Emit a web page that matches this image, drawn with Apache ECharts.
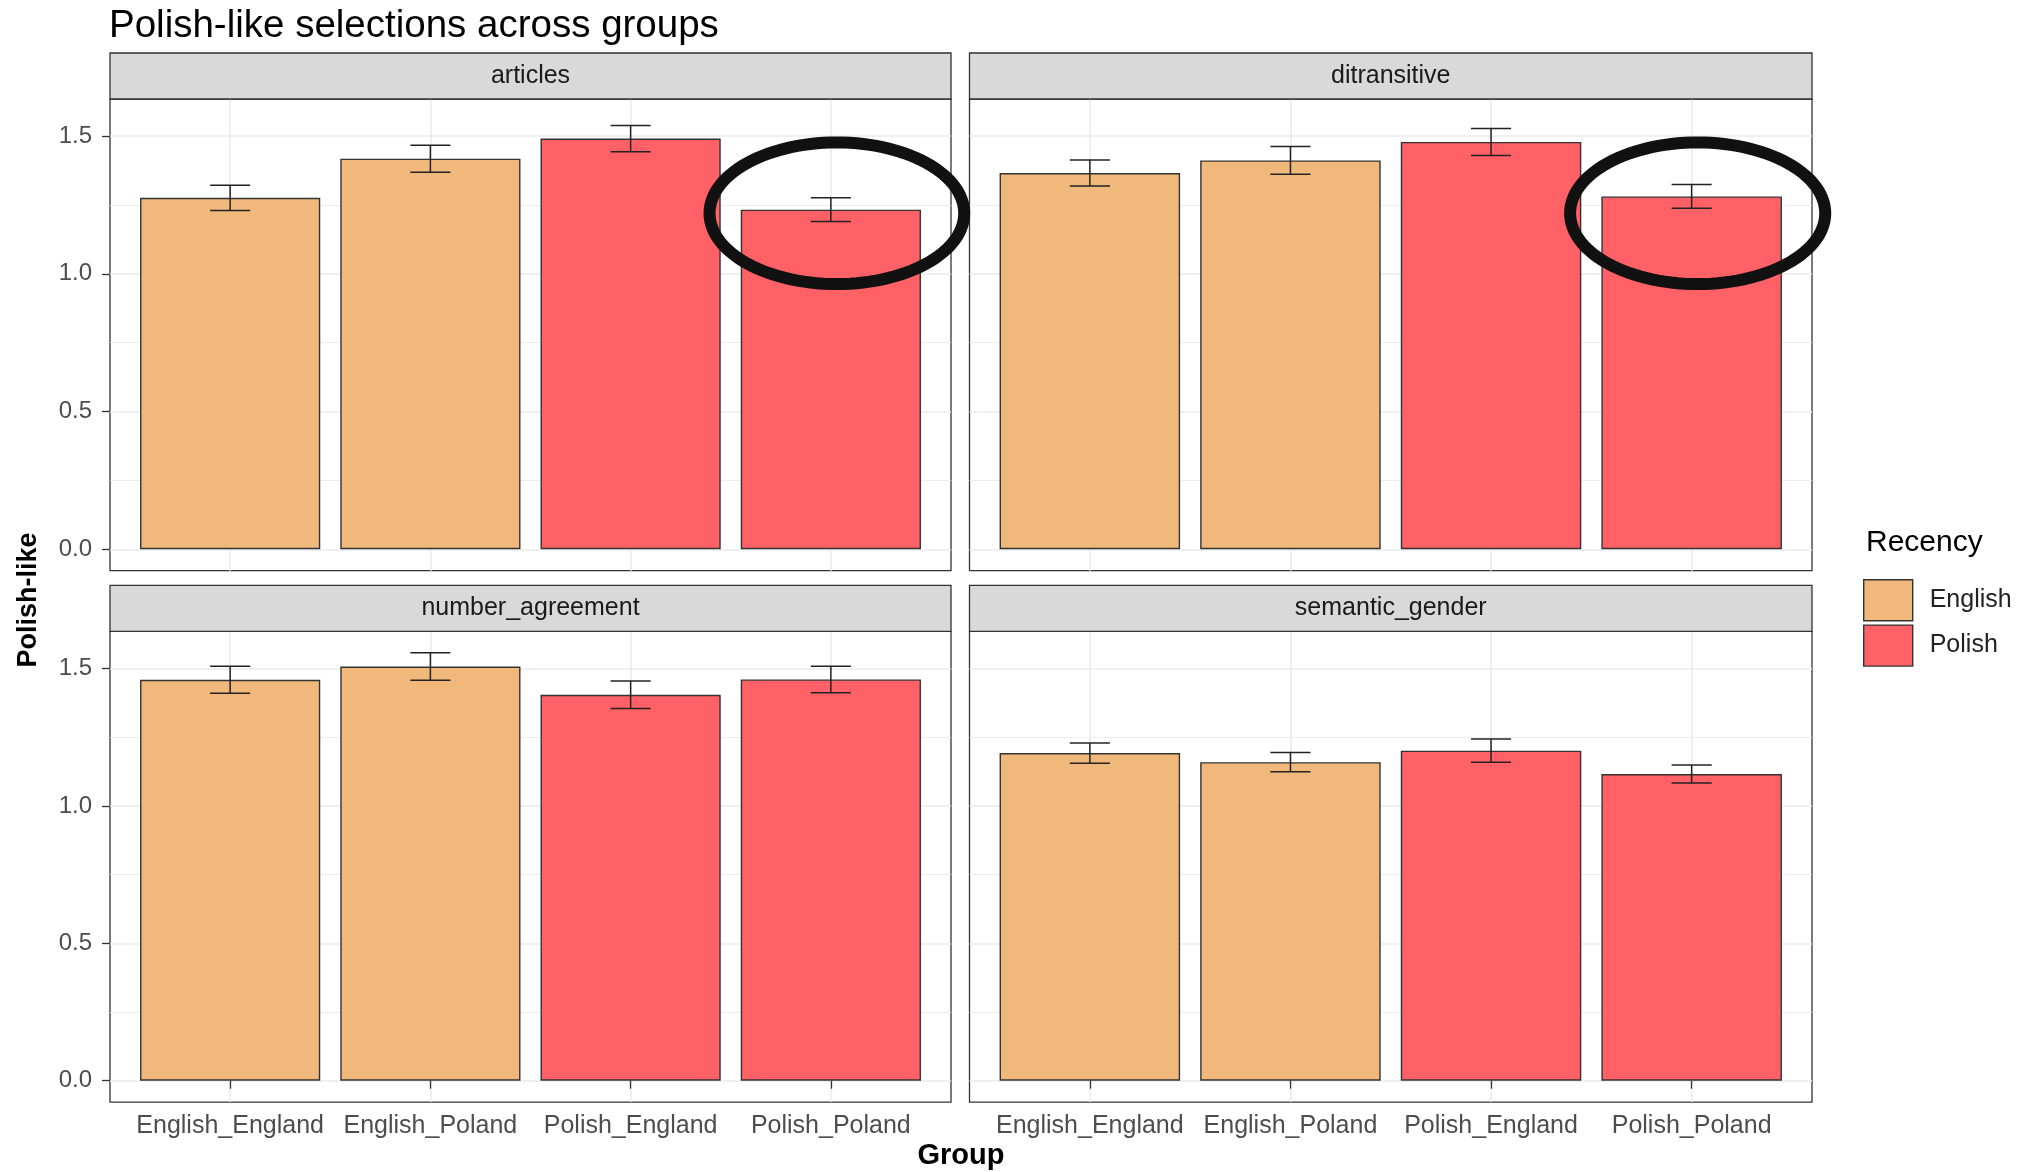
<!DOCTYPE html>
<html>
<head>
<meta charset="utf-8">
<title>Polish-like selections across groups</title>
<script src="https://cdn.jsdelivr.net/npm/echarts@6/dist/echarts.min.js"></script>
<style>
  html, body { margin: 0; padding: 0; background: #ffffff; }
  #chart { width: 2035px; height: 1172px; }
</style>
</head>
<body>
<div id="chart"></div>
<script>
// ---- data -------------------------------------------------------------
const groups = ['English_England', 'English_Poland', 'Polish_England', 'Polish_Poland'];
const facets = ['articles', 'ditransitive', 'number_agreement', 'semantic_gender'];
const recencyLevels = ['English', 'Polish'];

// mean proportion of Polish-like selections and its standard error, per group
const articlesMean = [1.276, 1.418, 1.491, 1.233];
const articlesSE = [0.046, 0.049, 0.048, 0.043];
const ditransitiveMean = [1.366, 1.412, 1.479, 1.281];
const ditransitiveSE = [0.047, 0.050, 0.049, 0.043];
const numberAgreementMean = [1.459, 1.507, 1.404, 1.460];
const numberAgreementSE = [0.049, 0.050, 0.050, 0.048];
const semanticGenderMean = [1.192, 1.159, 1.201, 1.116];
const semanticGenderSE = [0.037, 0.035, 0.042, 0.033];

const yTicks = [0, 0.5, 1.0, 1.5];
const yMinorTicks = [0.25, 0.75, 1.25];

// circled bars (centre of the hand-drawn ellipse, in data units)
const highlighted = [
  { facet: 'articles', group: 'Polish_Poland', y: 1.22 },
  { facet: 'ditransitive', group: 'Polish_Poland', y: 1.22 }
];

// ---- styling / layout -------------------------------------------------
const FONT = '"Liberation Sans", Arial, Helvetica, sans-serif';
const FILL = { English: '#F0B97B', Polish: '#FF6167' };
const INK = '#333333';
const GRID_COLOR = '#EBEBEB';
const COL_LEFT = [110, 969.5];
const COL_WIDTH = [841, 842.5];
const ROW_TOP = [99, 631.4];
const ROW_HEIGHT = [471.7, 470.7];
const STRIP_H = 46;

const facetTable = {
  articles: { mean: articlesMean, se: articlesSE },
  ditransitive: { mean: ditransitiveMean, se: ditransitiveSE },
  number_agreement: { mean: numberAgreementMean, se: numberAgreementSE },
  semantic_gender: { mean: semanticGenderMean, se: semanticGenderSE }
};

const recencyOf = g => g.split('_')[0];

// shared y scale: from 0 to the highest error-bar end, padded 5% on both sides
let yTop = 0;
facets.forEach(f => {
  facetTable[f].mean.forEach((m, k) => { yTop = Math.max(yTop, m + facetTable[f].se[k]); });
});
const yPad = 0.05 * yTop;
// discrete x positions 1..n with 0.6 units of padding each side
const xMin = 1 - 0.6, xMax = groups.length + 0.6;
const xPositions = groups.map((g, k) => k + 1);

const grid = [], xAxis = [], yAxis = [], series = [], graphic = [];

facets.forEach((facet, i) => {
  const row = Math.floor(i / 2), col = i % 2;
  const left = COL_LEFT[col], top = ROW_TOP[row];
  const width = COL_WIDTH[col], height = ROW_HEIGHT[row];
  const { mean, se } = facetTable[facet];

  grid.push({
    left: left, top: top, width: width, height: height,
    show: true, borderColor: INK, borderWidth: 1.3, backgroundColor: 'transparent'
  });

  xAxis.push({
    type: 'value', gridIndex: i, min: xMin, max: xMax,
    axisLine: { show: false }, splitLine: { show: false },
    axisTick: { show: row === 1, customValues: xPositions, length: 8, lineStyle: { color: INK, width: 1.3 } },
    axisLabel: {
      show: row === 1, customValues: xPositions, margin: 12,
      formatter: v => groups[Math.round(v) - 1] || '',
      fontSize: 25, color: '#4D4D4D', fontFamily: FONT
    }
  });

  yAxis.push({
    type: 'value', gridIndex: i, min: -yPad, max: yTop + yPad,
    axisLine: { show: false }, splitLine: { show: false },
    axisTick: { show: col === 0, customValues: yTicks, length: 8, lineStyle: { color: INK, width: 1.3 } },
    axisLabel: {
      show: col === 0, customValues: yTicks, margin: 18,
      formatter: v => v.toFixed(1),
      fontSize: 24, color: '#4D4D4D', fontFamily: FONT
    }
  });

  // panel grid lines (major + minor)
  const major = { color: GRID_COLOR, width: 1.6, type: 'solid' };
  const minor = { color: GRID_COLOR, width: 0.9, type: 'solid' };
  series.push({
    type: 'line', name: 'grid-' + facet, xAxisIndex: i, yAxisIndex: i,
    data: [], silent: true, z: 0,
    markLine: {
      silent: true, symbol: ['none', 'none'], z: 0, animation: false,
      label: { show: false }, emphasis: { disabled: true },
      data: [
        ...yMinorTicks.map(v => ({ yAxis: v, lineStyle: minor })),
        ...yTicks.map(v => ({ yAxis: v, lineStyle: major })),
        ...xPositions.map(v => ({ xAxis: v, lineStyle: major }))
      ]
    }
  });

  // bars, one series per Recency level
  recencyLevels.forEach(rec => {
    series.push({
      type: 'bar', name: rec, xAxisIndex: i, yAxisIndex: i, z: 2,
      barWidth: '90%', barGap: '-100%',
      itemStyle: { color: FILL[rec], borderColor: INK, borderWidth: 1.4 },
      emphasis: { disabled: true },
      data: groups.map((g, k) => ({ g, d: [xPositions[k], mean[k]] }))
                  .filter(o => recencyOf(o.g) === rec).map(o => o.d)
    });
  });

  // mean ± SE error bars
  series.push({
    type: 'custom', name: 'se-' + facet, xAxisIndex: i, yAxisIndex: i, z: 3,
    silent: true, clip: false,
    encode: { x: 0, y: [1, 2] },
    data: groups.map((g, k) => [xPositions[k], mean[k] - se[k], mean[k] + se[k]]),
    renderItem: (params, api) => {
      const x = api.value(0);
      const lo = api.coord([x, api.value(1)]);
      const hi = api.coord([x, api.value(2)]);
      const hw = api.size([0.1, 0])[0];
      const st = { stroke: '#222222', lineWidth: 1.5 };
      return {
        type: 'group', children: [
          { type: 'line', shape: { x1: hi[0], y1: hi[1], x2: lo[0], y2: lo[1] }, style: st },
          { type: 'line', shape: { x1: hi[0] - hw, y1: hi[1], x2: hi[0] + hw, y2: hi[1] }, style: st },
          { type: 'line', shape: { x1: lo[0] - hw, y1: lo[1], x2: lo[0] + hw, y2: lo[1] }, style: st }
        ]
      };
    }
  });

  // ellipse drawn round the highlighted bar
  const marks = highlighted.filter(h => h.facet === facet);
  if (marks.length) {
    series.push({
      type: 'custom', name: 'highlight-' + facet, xAxisIndex: i, yAxisIndex: i, z: 10,
      silent: true, clip: false,
      encode: { x: 0, y: 1 },
      data: marks.map(h => [groups.indexOf(h.group) + 1, h.y]),
      renderItem: (params, api) => {
        const c = api.coord([api.value(0) + 0.03, api.value(1)]);
        const r = api.size([0.636, 0.257]);
        const pts = [];
        for (let a = 0; a < 120; a++) {
          const t = a / 120 * Math.PI * 2;
          pts.push([c[0] + r[0] * Math.cos(t), c[1] + r[1] * Math.sin(t)]);
        }
        return {
          type: 'polygon', shape: { points: pts },
          style: { fill: 'none', stroke: '#111111', lineWidth: 12 }
        };
      }
    });
  }

  // facet strip
  graphic.push({
    type: 'rect', silent: true, z: 1,
    shape: { x: left, y: top - STRIP_H, width: width, height: STRIP_H },
    style: { fill: '#D9D9D9', stroke: INK, lineWidth: 1.3 }
  });
  graphic.push({
    type: 'text', silent: true, z: 2,
    x: left + width / 2, y: top - STRIP_H / 2,
    style: {
      text: facet, fill: '#1A1A1A', fontSize: 25, fontFamily: FONT,
      align: 'center', verticalAlign: 'middle'
    }
  });
});

// axis titles and legend title
graphic.push({
  type: 'text', silent: true,
  x: (COL_LEFT[0] + COL_LEFT[1] + COL_WIDTH[1]) / 2, y: 1156,
  style: { text: 'Group', fill: '#000', fontSize: 29, fontWeight: 'bold', fontFamily: FONT,
           align: 'center', verticalAlign: 'middle' }
});
graphic.push({
  type: 'text', silent: true,
  x: 29, y: 600, rotation: Math.PI / 2,
  style: { text: 'Polish-like', fill: '#000', fontSize: 27, fontWeight: 'bold', fontFamily: FONT,
           align: 'center', verticalAlign: 'middle' }
});
graphic.push({
  type: 'text', silent: true,
  x: 1866, y: 543,
  style: { text: 'Recency', fill: '#000', fontSize: 30, fontFamily: FONT,
           align: 'left', verticalAlign: 'middle' }
});

const chart = echarts.init(document.getElementById('chart'), null, { renderer: 'canvas' });
chart.setOption({
  animation: false,
  backgroundColor: '#ffffff',
  title: {
    text: 'Polish-like selections across groups',
    left: 104, top: 2,
    textStyle: { fontSize: 38.5, fontWeight: 'normal', color: '#000', fontFamily: FONT }
  },
  legend: {
    data: recencyLevels, orient: 'vertical', left: 1858, top: 574,
    itemWidth: 49, itemHeight: 41, itemGap: 3, icon: 'rect',
    selectedMode: false,
    itemStyle: { borderColor: INK, borderWidth: 1.4 },
    textStyle: { fontSize: 25, color: '#222', fontFamily: FONT, padding: [0, 0, 0, 12] }
  },
  grid, xAxis, yAxis, series, graphic
});
</script>
</body>
</html>
